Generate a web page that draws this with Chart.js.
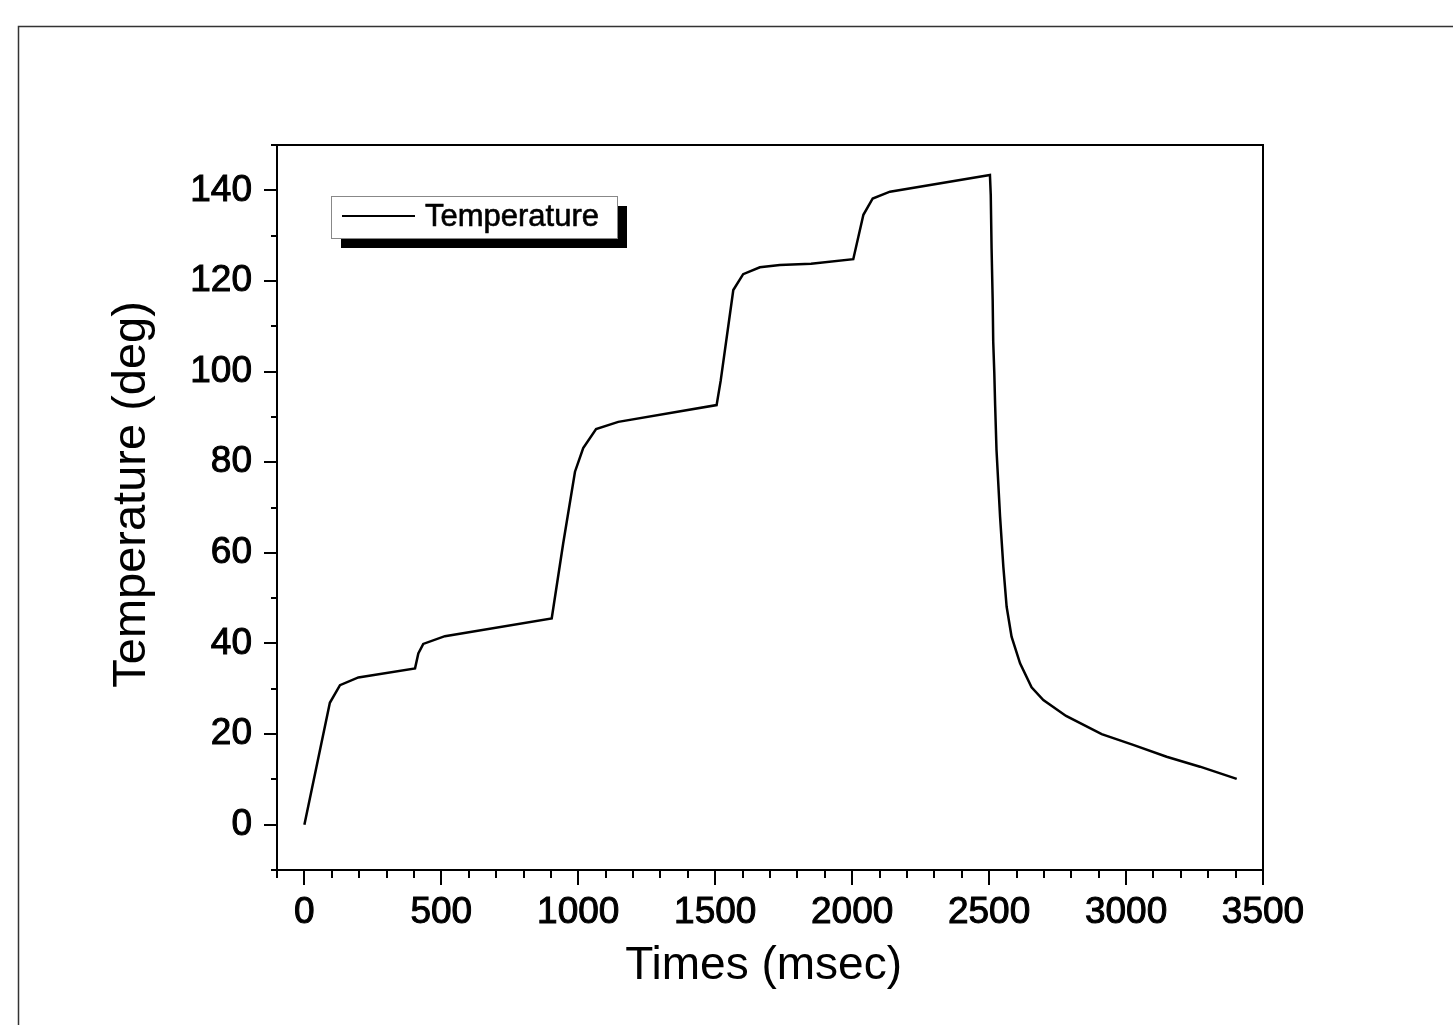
<!DOCTYPE html>
<html>
<head>
<meta charset="utf-8">
<script src="https://cdn.jsdelivr.net/npm/chart.js@4.4.1/dist/chart.umd.min.js"></script>
<style>
  body { margin: 0; background: #fff; }
  .c-wrap { position: relative; width: 1453px; height: 1025px; }
</style>
</head>
<body>
<div class="c-wrap"><canvas id="myChart"></canvas></div>
<script>
// data
const times = [0, 93, 130, 197, 404, 416, 434, 513, 903, 945, 988, 1018, 1065, 1146, 1505, 1520, 1566, 1602, 1663, 1736, 1850, 2004, 2041, 2075, 2138, 2503, 2506, 2509, 2513, 2515, 2519, 2522, 2527, 2540, 2552, 2564, 2582, 2613, 2655, 2698, 2781, 2911, 3026, 3148, 3270, 3404];
const temps = [0, 26.9, 30.8, 32.5, 34.5, 37.8, 39.9, 41.6, 45.5, 62.1, 77.9, 83.1, 87.3, 88.9, 92.6, 98.0, 118.0, 121.5, 123.0, 123.5, 123.8, 124.8, 134.6, 138.2, 139.7, 143.4, 139.0, 127.2, 115.8, 106.6, 99.6, 92.6, 82.7, 68.0, 56.9, 48.1, 41.5, 35.6, 30.3, 27.5, 24.0, 20.0, 17.6, 15.0, 12.8, 10.1];
const xTicks = [0, 500, 1000, 1500, 2000, 2500, 3000, 3500];
const yTicks = [0, 20, 40, 60, 80, 100, 120, 140];
const seriesName = 'Temperature';

const fontFamily = '"Liberation Sans", Arial, sans-serif';

// outer page frame
const pageFrame = {
  id: 'pageFrame',
  beforeDraw(chart) {
    const { ctx } = chart;
    ctx.save();
    ctx.fillStyle = '#fff';
    ctx.fillRect(0, 0, chart.width, chart.height);
    ctx.strokeStyle = '#333';
    ctx.lineWidth = 1.5;
    ctx.strokeRect(18.5, 26.5, chart.width + 20, chart.height + 20);
    ctx.restore();
  },
};

// box round the plot + ticks pointing out (major / minor)
const boxAndTicks = {
  id: 'boxAndTicks',
  afterDraw(chart) {
    const { ctx, chartArea: { left, top, right, bottom }, scales: { x, y } } = chart;
    ctx.save();
    ctx.strokeStyle = '#000';
    ctx.lineWidth = 2;
    ctx.strokeRect(left, top, right - left, bottom - top);
    ctx.beginPath();
    for (let v = x.min; v <= x.max; v += 100) {
      const px = Math.round(x.getPixelForValue(v));
      const len = v % 500 === 0 ? 15 : 8;
      ctx.moveTo(px, bottom);
      ctx.lineTo(px, bottom + len);
    }
    for (let v = y.min; v <= y.max; v += 10) {
      const py = Math.round(y.getPixelForValue(v));
      const len = v % 20 === 0 ? 13 : 6;
      ctx.moveTo(left, py);
      ctx.lineTo(left - len, py);
    }
    ctx.stroke();
    ctx.restore();
  },
};

// legend with the dropped shadow
const shadowLegend = {
  id: 'shadowLegend',
  afterDraw(chart) {
    const { ctx, chartArea: { left, top } } = chart;
    const bx = left + 54, by = top + 51, bw = 286, bh = 42;
    ctx.save();
    ctx.fillStyle = '#000';
    ctx.fillRect(bx + 10, by + 10, bw, bh);
    ctx.fillStyle = '#fff';
    ctx.fillRect(bx, by, bw, bh);
    ctx.strokeStyle = '#888';
    ctx.lineWidth = 1;
    ctx.strokeRect(bx + 0.5, by + 0.5, bw, bh);
    ctx.strokeStyle = '#000';
    ctx.lineWidth = 2;
    ctx.beginPath();
    ctx.moveTo(bx + 11, by + 20);
    ctx.lineTo(bx + 84, by + 20);
    ctx.stroke();
    ctx.fillStyle = '#000';
    ctx.font = '31px ' + fontFamily;
    ctx.textBaseline = 'middle';
    ctx.fillText(seriesName, bx + 94, by + 21);
    ctx.lineWidth = 0.6;
    ctx.strokeText(seriesName, bx + 94, by + 21);
    ctx.restore();
  },
};

const makeChart = function () {
  const data = {
    datasets: [
      {
        label: seriesName,
        data: times.map((t, i) => ({ x: t, y: temps[i] })),
        borderColor: '#000',
        borderWidth: 2.5,
        pointRadius: 0,
        tension: 0,
        fill: false,
      },
    ],
  };

  const config = {
    type: 'line',
    data,
    options: {
      responsive: true,
      maintainAspectRatio: false,
      animation: false,
      layout: { padding: { top: 145, right: 190, left: 0, bottom: 0 } },
      plugins: {
        legend: { display: false },
        tooltip: { enabled: false },
      },
      scales: {
        x: {
          type: 'linear',
          min: -100,
          max: 3500,
          afterFit(scale) { scale.height = 155; },
          afterBuildTicks(scale) { scale.ticks = xTicks.map((v) => ({ value: v })); },
          grid: { display: false, drawTicks: false },
          border: { display: false },
          ticks: {
            color: '#000',
            font: { family: fontFamily, size: 37 },
            padding: 21,
            maxRotation: 0,
            autoSkip: false,
            textStrokeColor: '#000',
            textStrokeWidth: 1,
            callback: (v) => String(v),
          },
          title: {
            display: true,
            text: 'Times (msec) ',
            color: '#000',
            font: { family: fontFamily, size: 46, lineHeight: 1.2 },
            padding: { top: 0, bottom: 31 },
          },
        },
        y: {
          min: -10,
          max: 150,
          afterFit(scale) { scale.width = 277; },
          afterBuildTicks(scale) { scale.ticks = yTicks.map((v) => ({ value: v })); },
          grid: { display: false, drawTicks: false },
          border: { display: false },
          ticks: {
            color: '#000',
            font: { family: fontFamily, size: 37 },
            padding: 25,
            textStrokeColor: '#000',
            textStrokeWidth: 1,
            callback: (v) => String(v),
          },
          title: {
            display: true,
            text: '  Temperature (deg)',
            color: '#000',
            font: { family: fontFamily, size: 47, lineHeight: 1.2 },
            padding: { top: 104, bottom: 0 },
          },
        },
      },
    },
    plugins: [pageFrame, boxAndTicks, shadowLegend],
  };

  new Chart(document.getElementById('myChart'), config);
};

document.addEventListener('DOMContentLoaded', makeChart);
</script>
</body>
</html>
